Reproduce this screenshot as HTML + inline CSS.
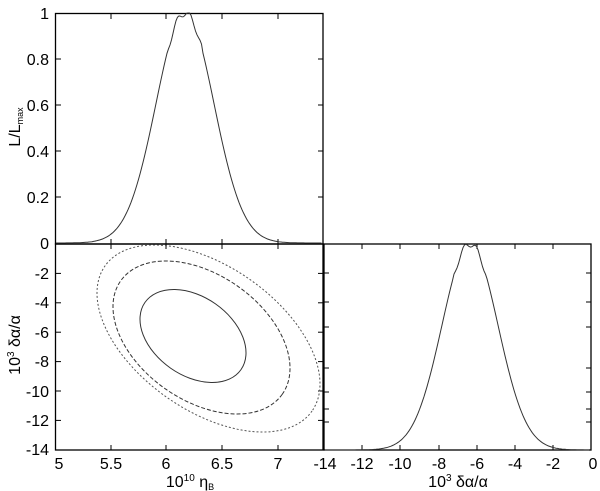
<!DOCTYPE html>
<html><head><meta charset="utf-8"><style>
body{margin:0;background:#fff;}
svg{display:block;font-family:"Liberation Sans",sans-serif;}
text{font-size:16px;fill:#000;}
</style></head><body>
<svg id="s" width="600" height="491" viewBox="0 0 600 491" xmlns="http://www.w3.org/2000/svg">
<g fill="none" stroke="#000" stroke-width="1.3">
<rect x="55.5" y="13.5" width="267.5" height="230.5"/>
<rect x="55.5" y="244" width="267.5" height="206"/>
<rect x="324" y="244" width="267" height="206"/>
</g>
<g id="ticks" stroke="#000" stroke-width="1"></g>
<g fill="none" stroke="#333" stroke-width="1">
<path id="c1"/>
<path id="c2"/>
<ellipse cx="193" cy="336" rx="58.6" ry="39.2" transform="rotate(35 193 336)"/>
<ellipse cx="201.5" cy="337.5" rx="98.7" ry="62.8" transform="rotate(35 201.5 337.5)" stroke-dasharray="4,2"/>
<ellipse cx="208.5" cy="338.5" rx="126.4" ry="72.1" transform="rotate(35 208.5 338.5)" stroke-dasharray="2,2" stroke="#555"/>
</g>
<g text-anchor="end">
<text x="49" y="19">1</text>
<text x="49" y="65">0.8</text>
<text x="49" y="111">0.6</text>
<text x="49" y="157">0.4</text>
<text x="49" y="203">0.2</text>
<text x="49" y="249">0</text>
<text x="49" y="279">-2</text>
<text x="49" y="308">-4</text>
<text x="49" y="338">-6</text>
<text x="49" y="367">-8</text>
<text x="49" y="397">-10</text>
<text x="49" y="426">-12</text>
<text x="49" y="455">-14</text>
</g>
<g text-anchor="middle">
<text x="59" y="469">5</text>
<text x="111" y="469">5.5</text>
<text x="166" y="469">6</text>
<text x="222" y="469">6.5</text>
<text x="278" y="469">7</text>
<text x="325" y="469">-14</text>
<text x="362" y="469">-12</text>
<text x="400" y="469">-10</text>
<text x="439" y="469">-8</text>
<text x="477" y="469">-6</text>
<text x="515" y="469">-4</text>
<text x="553" y="469">-2</text>
<text x="593" y="469">0</text>
<text x="190" y="487">10<tspan font-size="10" dy="-6">10</tspan><tspan dy="6"> η</tspan><tspan font-size="9" dy="3">B</tspan></text>
<text x="458" y="487">10<tspan font-size="10" dy="-6">3</tspan><tspan dy="6"> δα/α</tspan></text>
<text transform="translate(20,345) rotate(-90)">10<tspan font-size="10" dy="-6">3</tspan><tspan dy="6"> δα/α</tspan></text>
<text transform="translate(20,127) rotate(-90)">L/L<tspan font-size="9" dy="3">max</tspan></text>
</g>
</svg>
<script>
var ns="http://www.w3.org/2000/svg",t=document.getElementById("ticks");
function L(x1,y1,x2,y2){var l=document.createElementNS(ns,"line");l.setAttribute("x1",x1);l.setAttribute("y1",y1);l.setAttribute("x2",x2);l.setAttribute("y2",y2);t.appendChild(l);}
[111,166,222,278].forEach(function(x){L(x,14,x,19);L(x,244,x,239);L(x,244,x,249);L(x,450,x,445);});
for(var i=1;i<5;i++){var y=243-i*46;L(56,y,61,y);L(323,y,318,y);}
for(var i=1;i<7;i++){var y=244+i*29.4;L(56,y,61,y);L(323,y,318,y);}
[362,400,439,477,515,553].forEach(function(x){L(x,244,x,249);L(x,450,x,445);});
[273,302,327,368,392,409,422].forEach(function(y){L(324,y,329,y);L(591,y,586,y);});
function g(cx,s,x0,x1,yb,h,id,seed){var d="";for(var x=x0;x<=x1;x+=1.5){var u=(x-cx)/s;var v=Math.exp(-u*u/2);var n=(Math.abs(u)<0.6)?(Math.sin(x*0.5+seed)*0.015):0;var y=yb-h*Math.min(1,v+n);d+=(d?"L":"M")+x+","+y.toFixed(1);}document.getElementById(id).setAttribute("d",d);}
g(185,29,56,322,243,230,"c1",1);
g(470,28,325,590,450,206,"c2",2);
</script>
</body></html>
